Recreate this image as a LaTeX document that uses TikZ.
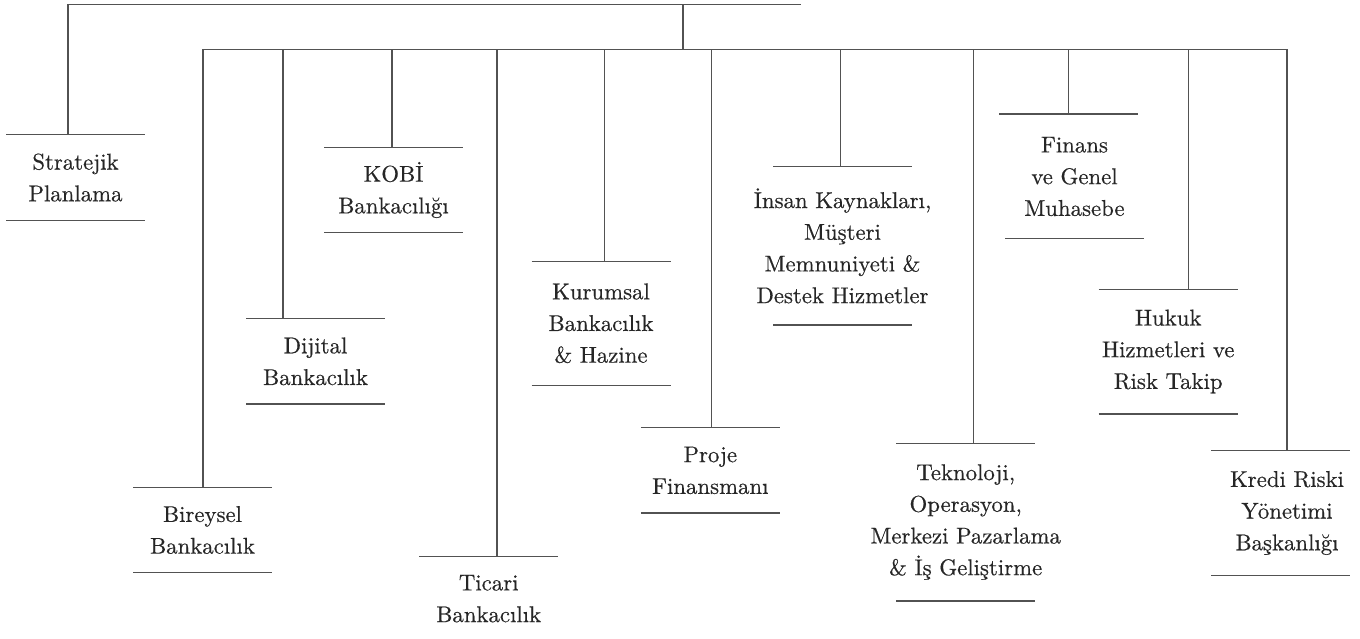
\documentclass[tikz,border=0pt]{standalone}
\usepackage{fontspec}
\newfontfamily\unitfont{lmroman10-regular}[Extension=.otf, FakeBold=0.5]
\tikzset{
  unitbox/.style={align=center, inner sep=0pt,
    font=\unitfont\fontsize{22.8}{31.7}\selectfont, text=black!85},
  rule/.style={draw=black!68, line width=1.2pt},
}
\newcommand\unitlines[2][0pt]{%
  \draw[rule] ([xshift=#1-69.5pt]#2.north) -- ([xshift=#1+69.5pt]#2.north);
  \draw[rule] ([xshift=#1-69.5pt]#2.south) -- ([xshift=#1+69.5pt]#2.south);}
\begin{document}
\begin{tikzpicture}[x=1pt,y=-1pt]
\useasboundingbox (0,0) rectangle (1360,639);

% boxes
\node[unitbox, minimum height=85pt]   (strat) at (75.5,177.5)  {Stratejik\\Planlama};
\node[unitbox, minimum height=84pt]   (kobi)  at (393.5,190)   {KOBİ\\Bankacılığı};
\node[unitbox, minimum height=84.7pt] (dij)   at (315.5,361.35){Dijital\\Bankacılık};
\node[unitbox, minimum height=84pt]   (bir)   at (202.5,530)   {Bireysel\\Bankacılık};
\node[unitbox, minimum height=84.7pt] (tic)   at (488.7,598.65){Ticari\\Bankacılık};
\node[unitbox, minimum height=124pt]  (kur)   at (601,323.3)   {Kurumsal\\Bankacılık\\\& Hazine};
\node[unitbox, minimum height=84.7pt] (pro)   at (710.3,470.35){Proje\\Finansmanı};
\node[unitbox, minimum height=157.7pt](ins)   at (842.5,245.85){İnsan Kaynakları,\\Müşteri\\Memnuniyeti \&\\Destek Hizmetler};
\node[unitbox, minimum height=157.4pt](tek)   at (965.7,522)   {Teknoloji,\\Operasyon,\\Merkezi Pazarlama\\\& İş Geliştirme};
\node[unitbox, minimum height=124.4pt](fin)   at (1074.5,176.5){Finans\\ve Genel\\Muhasebe};
\node[unitbox, minimum height=124.4pt](huk)   at (1168.2,351.5){Hukuk\\Hizmetleri ve\\Risk Takip};
\node[unitbox, minimum height=124.6pt](kre)   at (1287,513)    {Kredi Riski\\Yönetimi\\Başkanlığı};

% box rules
\unitlines{strat}
\unitlines{kobi}
\unitlines{dij}
\unitlines{bir}
\draw[rule] ([xshift=-69.5pt]tic.north) -- ([xshift=69.5pt]tic.north);
\unitlines{kur}
\unitlines{pro}
\unitlines{ins}
\unitlines{tek}
\draw[rule] ([xshift=-75.3pt]fin.north) -- ([xshift=63.7pt]fin.north);
\draw[rule] ([xshift=-69.5pt]fin.south) -- ([xshift=69.5pt]fin.south);
\unitlines{huk}
\unitlines[-6.5pt]{kre}

% tree
\coordinate (tl) at (68,4.5);
\coordinate (tr) at (801,4.5);
\coordinate (tm) at (683,4.5);
\coordinate (bm) at (683,49.5);
\coordinate (bl) at (203,49.5);
\coordinate (br) at (1287,49.5);
\draw[rule] (tl) -- (tr);
\draw[rule] (tl) -- (tl |- strat.north);
\draw[rule] (tm) -- (bm);
\draw[rule] (bl) -- (br);

\coordinate (cbir) at (203,49.5);
\coordinate (cdij) at (283,49.5);
\coordinate (ckobi) at (392,49.5);
\coordinate (ctic) at (497,49.5);
\coordinate (ckur) at (604.3,49.5);
\coordinate (cpro) at (711.7,49.5);
\coordinate (cins) at (840.7,49.5);
\coordinate (ctek) at (973.3,49.5);
\coordinate (cfin) at (1068.3,49.5);
\coordinate (chuk) at (1188.7,49.5);
\coordinate (ckre) at (1287,49.5);
\foreach \n in {bir,dij,kobi,tic,kur,pro,ins,tek,fin,huk,kre}
  \draw[rule] (c\n) -- (c\n |- \n.north);
\end{tikzpicture}
\end{document}
